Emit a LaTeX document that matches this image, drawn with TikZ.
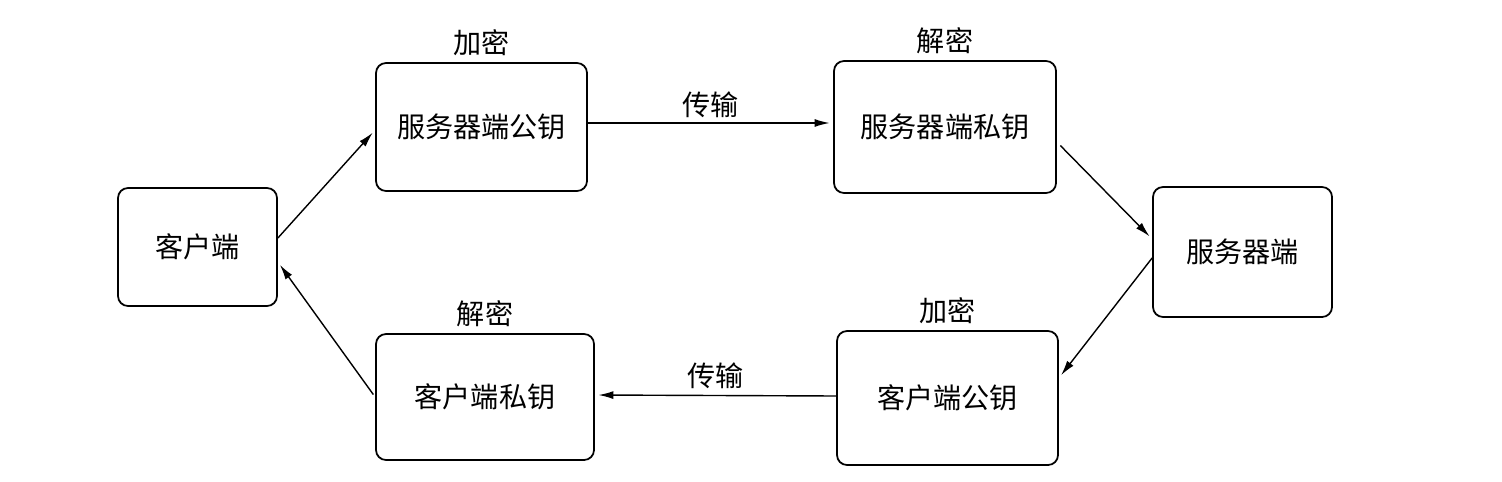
\documentclass[tikz,border=0pt]{standalone}
\usepackage{fontspec}
\usetikzlibrary{arrows.meta, positioning}
\newfontfamily\cjk{Noto Sans CJK SC}

\begin{document}
\begin{tikzpicture}[
    party/.style={rectangle, rounded corners=0.2cm, draw, line width=1pt, minimum width=3.18cm, minimum height=2.36cm},
    keybox/.style={rectangle, rounded corners=0.2cm, draw, line width=1pt, minimum width=4.3cm, minimum height=2.6cm},
    tag/.style={inner sep=0pt},
    message/.style={-{Latex[length=3mm, width=1.6mm]}, line width=0.8pt, shorten >=2pt},
    font=\cjk\fontsize{16}{19}\selectfont
]
    \useasboundingbox (0,0) rectangle (30.04,-9.64);

    % Parties
    \node[party] (client) at (3.95,-4.94) {客户端};
    \node[party, minimum width=3.58cm, minimum height=2.6cm] (server) at (24.85,-5.04) {服务器端};

    % Keys
    \node[keybox, minimum width=4.22cm, minimum height=2.56cm] (spub) at (9.63,-2.54) {服务器端公钥};
    \node[keybox, minimum width=4.44cm, minimum height=2.64cm] (spriv) at (18.9,-2.54) {服务器端私钥};
    \node[keybox, minimum width=4.42cm, minimum height=2.68cm] (cpub) at (18.95,-7.96) {客户端公钥};
    \node[keybox, minimum width=4.36cm, minimum height=2.52cm] (cpriv) at (9.7,-7.94) {客户端私钥};

    % Tags
    \node[tag, above=0.12cm of spub] (spubtag) {加密};
    \node[tag, above=0.12cm of spriv] (sprivtag) {解密};
    \node[tag, above=0.12cm of cpub] (cpubtag) {加密};
    \node[tag, above=0.12cm of cpriv] (cprivtag) {解密};

    % Messages
    \draw[message] ([yshift=0.18cm]client.east) -- ([yshift=-0.06cm]spub.west);
    \draw[message] ([yshift=0.08cm]spub.east) -- node[tag, above=0.1cm] (sendup) {传输} ([yshift=0.08cm]spriv.west);
    \draw[message, shorten <=0.1cm] ([yshift=-0.3cm]spriv.east) -- ([yshift=0.26cm]server.west);
    \draw[message] ([yshift=-0.12cm]server.west) -- ([yshift=0.4cm]cpub.east);
    \draw[message] ([yshift=0.04cm]cpub.west) -- node[tag, above=0.12cm] (senddown) {传输} ([yshift=0.04cm]cpriv.east);
    \draw[message, shorten <=0.06cm] (cpriv.west) -- ([yshift=-0.3cm]client.east);

\end{tikzpicture}
\end{document}
